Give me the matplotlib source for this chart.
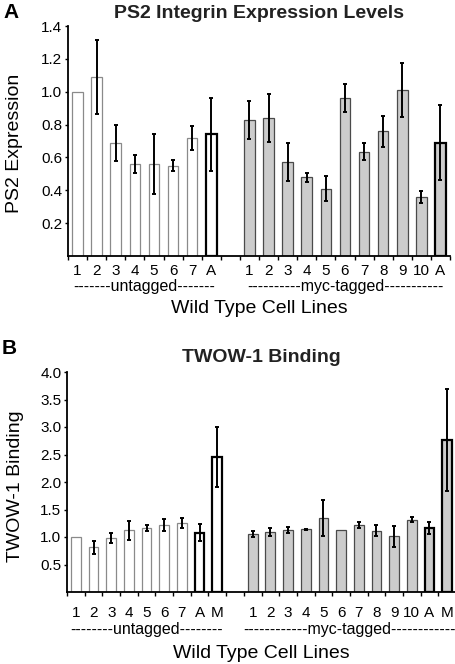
import numpy as np
import matplotlib
matplotlib.use("Agg")
import matplotlib.pyplot as plt

plt.rcParams["font.family"] = ["Liberation Sans", "DejaVu Sans"]

# ---------------------------------------------------------------------------
# Data
# ---------------------------------------------------------------------------
ps2_untagged_labels = ["1", "2", "3", "4", "5", "6", "7", "A"]
ps2_untagged = [1.00, 1.09, 0.69, 0.56, 0.56, 0.55, 0.72, 0.74]
ps2_untagged_err = [0.0, 0.225, 0.11, 0.053, 0.18, 0.034, 0.072, 0.22]
ps2_myc_labels = ["1", "2", "3", "4", "5", "6", "7", "8", "9", "10", "A"]
ps2_myc = [0.83, 0.84, 0.57, 0.48, 0.41, 0.96, 0.635, 0.76, 1.01, 0.36, 0.69]
ps2_myc_err = [0.115, 0.145, 0.115, 0.027, 0.077, 0.085, 0.053, 0.095, 0.166, 0.036, 0.23]

twow_untagged_labels = ["1", "2", "3", "4", "5", "6", "7", "A", "M"]
twow_untagged = [1.00, 0.81, 0.99, 1.12, 1.16, 1.22, 1.25, 1.08, 2.46]
twow_untagged_err = [0.0, 0.11, 0.09, 0.17, 0.055, 0.106, 0.09, 0.15, 0.545]
twow_myc_labels = ["1", "2", "3", "4", "5", "6", "7", "8", "9", "10", "A", "M"]
twow_myc = [1.055, 1.09, 1.12, 1.14, 1.34, 1.12, 1.22, 1.11, 1.01, 1.315, 1.16, 2.76]
twow_myc_err = [0.05, 0.076, 0.055, 0.008, 0.325, 0.0, 0.06, 0.1, 0.185, 0.048, 0.113, 0.925]

WHITE = "white"
GRAY_FILL = "#cccccc"


def draw_panel(ax, u_labels, u_vals, u_err, m_labels, m_vals, m_err,
               ymax, yticks, u_text, m_text, ylabel, ypad_pts, group_off, xlab_off):
    nu, nm = len(u_labels), len(m_labels)
    xu = np.arange(nu)
    xm = nu + 1 + np.arange(nm)  # one empty slot between the groups
    n_slots = nu + 1 + nm

    for xs, vals, err, labels, fill, edge in [
        (xu, u_vals, u_err, u_labels, WHITE, "#8a8a8a"),
        (xm, m_vals, m_err, m_labels, GRAY_FILL, "#4a4a4a"),
    ]:
        bold = [lab in ("A", "M") for lab in labels]
        ax.bar(xs, vals, width=0.55, color=fill,
               edgecolor=["black" if b else edge for b in bold],
               linewidth=[1.6 if b else 0.9 for b in bold], zorder=2)
        err = np.asarray(err)
        keep = err > 0
        ax.errorbar(xs[keep], np.asarray(vals)[keep], yerr=err[keep], fmt="none",
                    ecolor="black", elinewidth=1.4, capsize=1.6, capthick=1.4, zorder=3)

    ax.set_xlim(-0.5, n_slots - 0.5)
    ax.set_ylim(0, ymax)
    ax.set_yticks(yticks)
    ax.set_yticklabels([f"{t:.1f}" for t in yticks])
    ax.set_xticks(list(xu) + list(xm))
    ax.set_xticklabels(u_labels + m_labels)
    ax.set_xticks(np.arange(-0.5, n_slots), minor=True)
    ax.tick_params(axis="x", which="major", length=0, pad=ypad_pts, labelsize=11)
    ax.tick_params(axis="x", which="minor", length=3, width=1, direction="out")
    ax.tick_params(axis="y", length=2.5, width=1, pad=1.5, labelsize=11)

    for side in ("top", "right"):
        ax.spines[side].set_visible(False)
    for side in ("left", "bottom"):
        ax.spines[side].set_linewidth(1.3)

    ax.annotate(u_text, xy=(xu.mean(), 0), xycoords=("data", "axes fraction"),
                xytext=(0, -group_off), textcoords="offset points",
                ha="center", va="center", fontsize=11.5)
    ax.annotate(m_text, xy=(xm.mean(), 0), xycoords=("data", "axes fraction"),
                xytext=(0, -group_off), textcoords="offset points",
                ha="center", va="center", fontsize=11.5)
    ax.annotate("Wild Type Cell Lines", xy=(0.5, 0), xycoords="axes fraction",
                xytext=(0, -xlab_off), textcoords="offset points",
                ha="center", va="center", fontsize=14)
    ax.set_ylabel(ylabel, fontsize=14, va="center")


fig = plt.figure(figsize=(4.56, 6.64), dpi=100)

# Panel A
axA = fig.add_axes([68 / 456, 1 - 256 / 664, 382 / 456, 230 / 664])
draw_panel(axA, ps2_untagged_labels, ps2_untagged, ps2_untagged_err,
           ps2_myc_labels, ps2_myc, ps2_myc_err,
           1.4, [0.2, 0.4, 0.6, 0.8, 1.0, 1.2, 1.4],
           "-------untagged-------", "----------myc-tagged-----------",
           "PS2 Expression", 5.5, 22, 38)
axA.yaxis.set_label_coords((15 - 68) / 382, 0.49)

# Panel B
axB = fig.add_axes([67 / 456, 1 - 592 / 664, 389 / 456, 220 / 664])
draw_panel(axB, twow_untagged_labels, twow_untagged, twow_untagged_err,
           twow_myc_labels, twow_myc, twow_myc_err,
           4.0, [0.5, 1.0, 1.5, 2.0, 2.5, 3.0, 3.5, 4.0],
           "--------untagged--------", "------------myc-tagged------------",
           "TWOW-1 Binding", 10, 27, 44)
axB.yaxis.set_label_coords((15 - 67) / 389, 0.48)

fig.text(259 / 456, 1 - 13 / 664, "PS2 Integrin Expression Levels",
         ha="center", va="center", fontsize=14, fontweight="bold", color="#222222")
fig.text(261 / 456, 1 - 358 / 664, "TWOW-1 Binding",
         ha="center", va="center", fontsize=14, fontweight="bold", color="#222222")
fig.text(3 / 456, 1 - 13 / 664, "A", ha="left", va="center",
         fontsize=15, fontweight="bold")
fig.text(2 / 456, 1 - 349 / 664, "B", ha="left", va="center",
         fontsize=15, fontweight="bold")

fig.savefig("out.png", dpi=100)
